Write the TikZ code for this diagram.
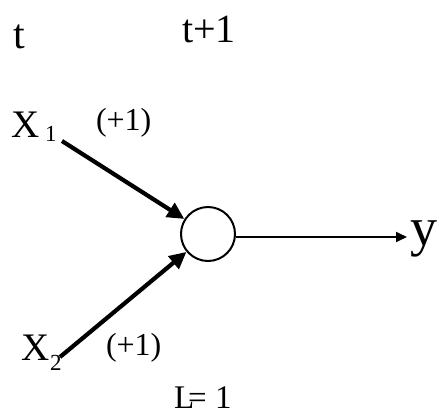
\documentclass[tikz,border=0pt]{standalone}
\usepackage{fontspec}
\setmainfont{Liberation Serif}
\usetikzlibrary{arrows.meta}
\newcommand{\fs}[1]{\fontsize{#1}{#1}\selectfont}
\tikzset{
  lbl/.style={anchor=base west, inner sep=0pt, outer sep=0pt},
  inarrow/.style={line width=4.2pt, -{Triangle[length=17pt,width=16pt]}},
  outarrow/.style={line width=1.8pt, -{Triangle[length=11pt,width=10pt]}},
  neuron/.style={circle, draw, line width=2pt, minimum size=54pt, inner sep=0pt}
}
\begin{document}
\begin{tikzpicture}[x=1pt,y=-1pt]
\useasboundingbox (0,0) rectangle (439,418);
\node[lbl] (t) at (13,48) {\fs{42}t};
\node[lbl] (t1) at (182,42) {\fs{40}t+1};
\node[lbl] (x1) at (12,137) {\fs{39}X\hspace{5pt}\raisebox{-4pt}{\fs{23}1}};
\node[lbl] (w1) at (96,130) {\fs{32}(+1)};
\node[lbl] (x2) at (21,360) {\fs{39}X\hspace{1pt}\raisebox{-10pt}{\fs{23}2}};
\node[lbl] (w2) at (106,355) {\fs{32}(+1)};
\node[lbl] (L) at (174,408) {\fs{33}L\hspace{-6pt}= 1};
\node[lbl] (y) at (410,245) {\fs{54}y};
\node[neuron] (n) at (208,234) {};
\coordinate (a1) at (62,141);
\coordinate (a2) at (60,357);
\coordinate (yend) at (407,237);
\draw[inarrow] (a1) -- (n);
\draw[inarrow] (a2) -- (n);
\draw[outarrow] (n.east |- yend) -- (yend);
\end{tikzpicture}
\end{document}
